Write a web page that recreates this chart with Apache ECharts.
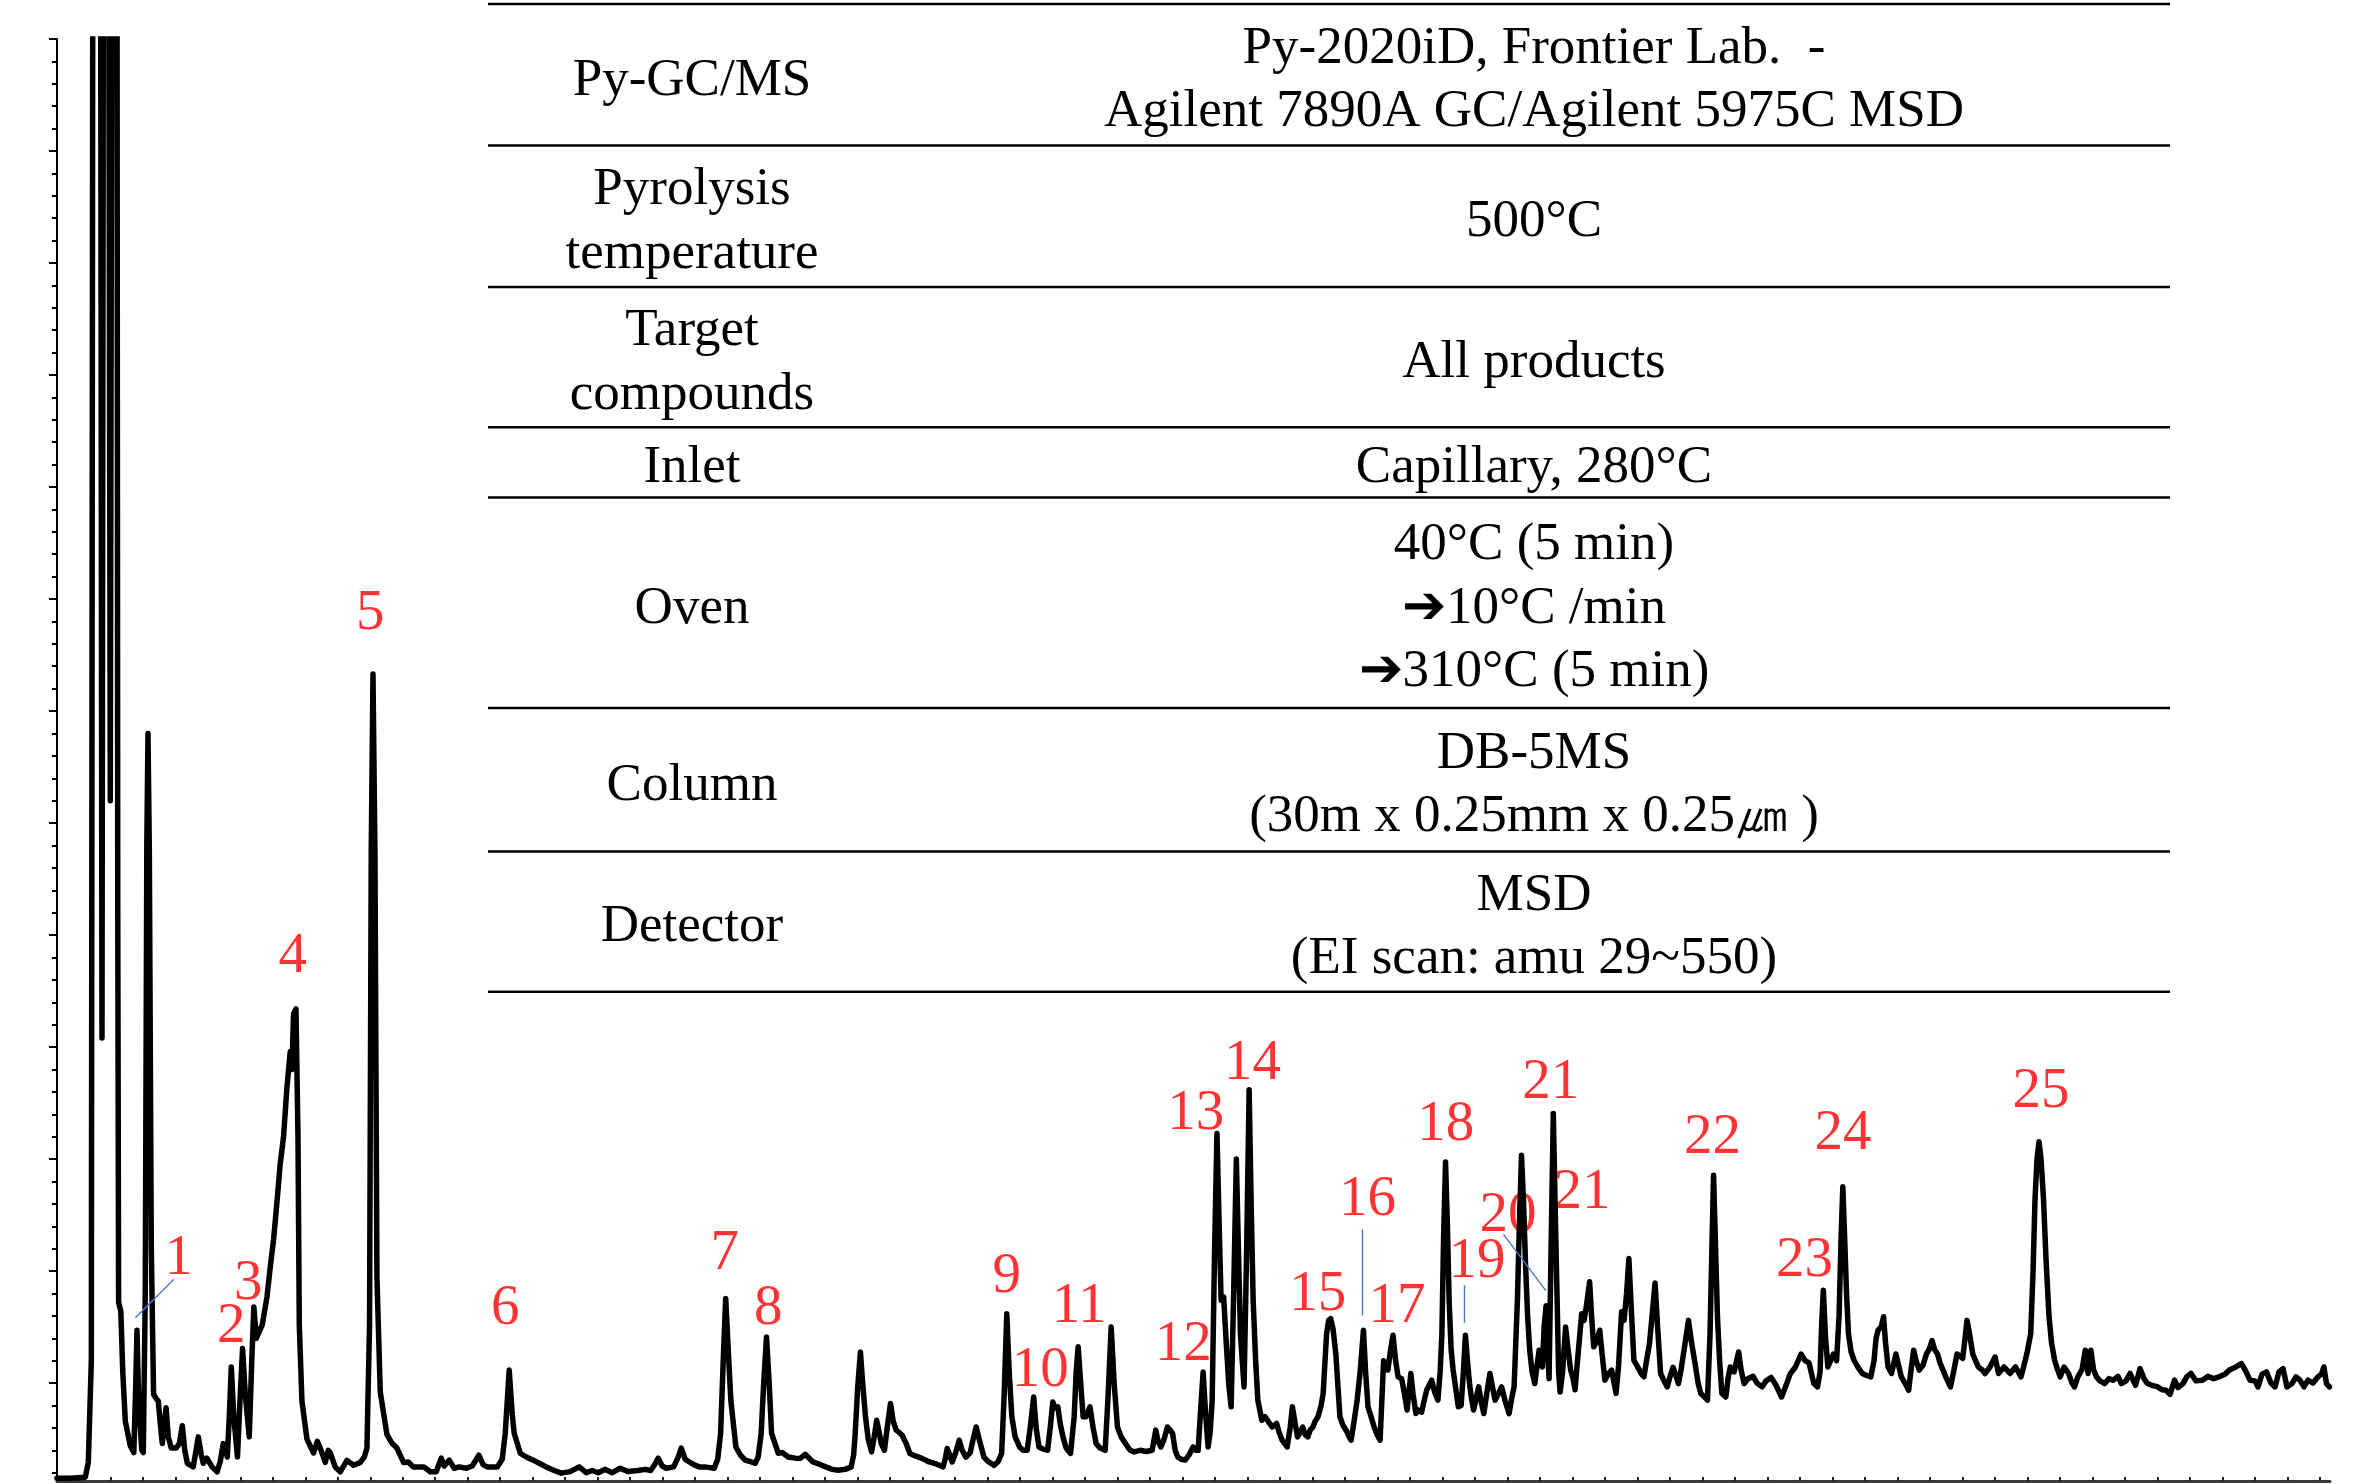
<!DOCTYPE html>
<html>
<head>
<meta charset="utf-8">
<style>
html,body{margin:0;padding:0;background:#fff;}
#chart{width:2374px;height:1484px;}
</style>
<script src="https://cdn.jsdelivr.net/npm/echarts@6/dist/echarts.min.js"></script>
</head>
<body>
<div id="chart"></div>
<script>
// Retention time (min)
const times = [
0.680,0.885,1.115,1.162,1.208,1.235,1.346,1.372,1.400,1.469,1.500,1.531,1.600,1.615,1.628,1.662,1.692,1.731,1.808,1.862,
1.892,1.911,1.938,1.985,2.008,2.038,2.062,2.080,2.100,2.131,2.166,2.208,2.238,2.269,2.300,2.358,2.392,2.438,2.515,2.562,
2.608,2.646,2.685,2.777,2.854,2.900,2.931,2.986,3.065,3.143,3.192,3.238,3.300,3.331,3.362,3.400,3.457,3.492,3.535,3.577,
3.638,3.677,3.709,3.746,3.777,3.838,3.911,3.962,4.012,4.062,4.115,4.166,4.218,4.269,4.295,4.320,4.357,4.388,4.408,4.449,
4.526,4.628,4.685,4.731,4.808,4.854,4.885,4.962,5.038,5.142,5.243,5.346,5.408,5.449,5.489,5.515,5.542,5.572,5.603,5.654,
5.757,5.838,5.911,6.012,6.085,6.166,6.323,6.423,6.515,6.592,6.638,6.715,6.792,6.869,6.977,7.069,7.171,7.238,7.300,7.454,
7.531,7.577,7.638,7.685,7.715,7.808,7.900,8.008,8.115,8.208,8.331,8.438,8.577,8.715,8.823,8.915,9.008,9.109,9.223,9.346,
9.469,9.620,9.731,9.815,9.885,9.931,9.992,10.054,10.169,10.238,10.285,10.346,10.408,10.485,10.562,10.669,10.792,10.846,10.891,10.931,
10.969,11.008,11.048,11.126,11.192,11.269,11.346,11.423,11.469,11.515,11.554,11.597,11.638,11.675,11.777,11.838,11.931,12.038,12.115,12.192,
12.312,12.392,12.508,12.608,12.700,12.808,12.900,12.938,12.962,13.000,13.042,13.077,13.120,13.162,13.214,13.254,13.292,13.331,13.362,13.411,
13.454,13.505,13.546,13.592,13.638,13.685,13.746,13.803,13.885,13.998,14.085,14.192,14.314,14.346,14.377,14.415,14.454,14.508,14.562,14.608,
14.666,14.731,14.777,14.823,14.869,14.942,15.008,15.100,15.162,15.215,15.254,15.294,15.331,15.372,15.423,15.491,15.546,15.608,15.654,15.708,
15.746,15.789,15.854,15.922,15.962,16.002,16.038,16.080,16.115,16.158,16.208,16.275,16.331,16.362,16.392,16.431,16.469,16.515,16.574,16.623,
16.669,16.731,16.808,16.854,16.900,16.946,16.997,17.054,17.138,17.192,17.254,17.346,17.438,17.531,17.586,17.623,17.665,17.715,17.766,17.808,
17.845,17.885,17.925,17.977,18.038,18.100,18.160,18.200,18.238,18.277,18.315,18.354,18.392,18.423,18.454,18.492,18.528,18.562,18.592,18.631,
18.669,18.708,18.746,18.785,18.826,18.858,18.889,18.945,18.985,19.023,19.054,19.085,19.123,19.157,19.218,19.269,19.315,19.377,19.446,19.485,
19.531,19.608,19.654,19.689,19.731,19.768,19.808,19.848,19.885,19.926,19.962,20.005,20.038,20.083,20.131,20.162,20.215,20.246,20.278,20.315,
20.357,20.420,20.469,20.515,20.562,20.592,20.638,20.685,20.731,20.782,20.815,20.852,20.900,20.946,20.992,21.038,21.069,21.092,21.158,21.200,
21.237,21.277,21.315,21.369,21.408,21.454,21.511,21.546,21.589,21.623,21.677,21.715,21.754,21.792,21.832,21.877,21.928,21.962,21.989,22.015,
22.045,22.074,22.100,22.131,22.162,22.200,22.242,22.285,22.320,22.351,22.382,22.414,22.446,22.477,22.515,22.555,22.592,22.634,22.677,22.728,
22.769,22.808,22.854,22.908,22.962,23.023,23.062,23.100,23.151,23.185,23.214,23.246,23.277,23.308,23.340,23.377,23.418,23.454,23.485,23.515,
23.535,23.562,23.592,23.615,23.638,23.669,23.703,23.731,23.762,23.785,23.808,23.846,23.892,23.931,23.969,24.008,24.038,24.069,24.103,24.140,
24.177,24.215,24.262,24.292,24.325,24.362,24.418,24.454,24.497,24.546,24.600,24.638,24.669,24.708,24.754,24.792,24.831,24.866,24.900,24.943,
24.985,25.029,25.062,25.097,25.138,25.183,25.223,25.269,25.308,25.354,25.408,25.457,25.500,25.546,25.592,25.629,25.669,25.715,25.783,25.831,
25.885,25.931,25.972,26.023,26.075,26.115,26.143,26.169,26.200,26.229,26.262,26.297,26.358,26.392,26.426,26.485,26.555,26.592,26.640,26.700,
26.777,26.838,26.915,26.977,27.054,27.131,27.215,27.285,27.346,27.429,27.515,27.577,27.638,27.712,27.769,27.808,27.831,27.858,27.892,27.928,
27.969,28.012,28.062,28.100,28.131,28.158,28.192,28.215,28.245,28.285,28.331,28.392,28.458,28.515,28.588,28.638,28.669,28.700,28.746,28.785,
28.815,28.854,28.908,28.974,29.015,29.058,29.115,29.171,29.208,29.248,29.285,29.334,29.392,29.445,29.485,29.531,29.569,29.615,29.654,29.700,
29.754,29.814,29.869,29.915,29.962,30.002,30.038,30.069,30.108,30.157,30.200,30.243,30.300,30.346,30.423,30.500,30.554,30.638,30.731,30.815,
30.900,30.946,30.989,31.049,31.085,31.115,31.146,31.177,31.208,31.246,31.285,31.331,31.369,31.417,31.462,31.503,31.562,31.632,31.685,31.723,
31.774,31.838,31.889,31.931,31.975,32.015,32.060,32.115,32.188,32.254,32.315,32.392,32.443,32.515,32.577,32.662,32.731,32.792,32.846,32.915,
33.005,33.069,33.131,33.192,33.262,33.315,33.392,33.454,33.515,33.592,33.692,33.777,33.862,33.946,34.038,34.115,34.205,34.291,34.346,34.423,
34.500,34.546,34.608,34.677,34.746,34.808,34.869,34.931,34.992,35.069,35.131,35.192,35.254,35.315,35.392,35.469,35.523,35.560,35.600,35.646
];
// Abundance (relative units)
const intensity = [
-0.25,-0.25,-0.2,0.47,5,80,80,19.4,80,80,30,80,80,25,7.6,7.2,4.5,2.3,1.2,0.9,
4,6.36,3,1.0,0.9,8,28,33,28,10,3.5,3.3,3.2,2.2,1.3,2.9,1.6,1.1,1.1,1.3,
2.1,1.0,0.42,0.26,1.6,0.8,0.42,0.65,0.26,0.04,0.5,1.3,0.7,2.5,4.72,2.5,0.7,3,5.54,3.5,
1.6,5,7.4,6.0,6.2,6.6,7.85,9.2,10.4,12.0,13.8,15.0,17.2,18.8,18.0,20.5,20.7,15,6.6,3.2,
1.5,0.88,1.4,1.1,0.46,1.0,0.88,0.25,0.04,0.55,0.33,0.46,0.7,1.1,6.6,27.7,35.65,27.7,8.7,3.6,
1.7,1.3,1.1,0.46,0.48,0.25,0.26,0.04,0.04,0.65,0.3,0.56,0.2,0.26,0.2,0.3,0.78,0.35,0.26,0.26,
0.6,1.76,4.58,2.6,1.76,0.87,0.7,0.56,0.4,0.26,0.1,-0.02,0.05,0.26,0.0,0.1,0.0,0.15,0.0,0.2,
0.05,0.1,0.15,0.1,0.4,0.65,0.3,0.2,0.26,0.7,1.1,0.6,0.48,0.35,0.26,0.25,0.2,0.6,1.76,5,
7.78,5.5,3.24,1.15,0.8,0.56,0.5,0.42,0.7,1.76,4,6.06,4,1.76,0.87,0.9,0.7,0.65,0.64,0.82,
0.48,0.4,0.26,0.15,0.11,0.15,0.26,0.8,1.76,3.8,5.39,4,2.5,1.5,0.93,1.6,2.34,1.8,1.3,1.0,
2.0,3.09,2.3,1.9,1.8,1.67,1.3,0.86,0.75,0.63,0.5,0.41,0.26,0.6,1.08,0.8,0.48,0.9,1.45,1.0,
0.7,0.9,1.5,2.04,1.5,0.7,0.5,0.33,0.5,0.86,3.5,7.1,4.5,2.5,1.6,1.15,1.0,1.0,2.0,3.38,
2.0,1.15,1.05,1.0,2.0,3.16,2.9,2.94,2.2,1.6,1.1,0.86,2.5,4.5,5.62,4,2.5,2.5,2.94,2.0,
1.3,1.1,1.0,3.5,6.5,4.0,2.04,1.6,1.23,1.0,0.93,1.0,0.95,1.0,1.9,1.4,1.15,1.5,2.04,1.9,
1.75,1.0,0.7,0.6,0.56,0.8,1.15,1.0,1.0,2.8,4.5,2.6,1.15,1.8,3.2,10,15.14,11,7.7,7.85,
5.9,4.0,2.94,8,14.0,10,6.2,3.83,10,17.1,12,7.7,5,3.24,2.34,2.5,2.3,2.04,2.2,1.8,
1.45,1.15,2.0,2.94,2.2,1.6,1.8,2.04,1.7,1.6,1.9,2.04,2.3,2.5,3.0,3.54,6.2,6.8,6.88,6.4,
5.3,2.5,2.1,1.9,1.6,1.45,2.3,3.24,4.5,6.36,4.5,2.94,2.5,2.04,1.7,1.45,3.5,5.0,4.58,5.5,
6.14,5.0,4.28,4.2,3.6,2.8,4.43,3.5,2.64,2.8,2.7,3.2,3.68,3.9,4.13,3.6,3.24,4.5,6.2,10.5,
13.87,11,7.7,5.5,4.58,3.8,2.94,3.0,4.5,6.14,5.0,3.98,3.3,2.8,3.3,3.83,3.2,2.64,3.5,4.43,
3.8,3.24,3.5,3.83,3.2,2.64,3.3,3.83,7.7,11.5,14.17,12,9.2,7.0,5.47,4.5,3.98,4.8,5.47,5.0,
4.72,6.5,7.45,5.5,4.2,10,16.04,12,7.7,4.5,3.6,4.5,6.5,5.5,4.6,4.2,3.7,4.8,5.9,7.1,
6.8,7.5,8.52,7.0,5.62,5.8,6.36,5.3,4.13,4.4,4.58,4.0,3.54,4.8,7.18,6.8,8.0,9.56,7.5,5.02,
4.8,4.58,4.4,4.28,5.0,5.77,7.0,8.47,6.5,4.43,4.1,3.83,4.3,4.7,4.3,3.98,4.6,5.47,6.8,5.8,
4.87,4.0,3.54,3.4,3.24,6.2,10,13.28,10,6.96,5.0,3.54,3.38,4.2,4.72,4.5,5.39,4.6,3.98,4.2,
4.3,4.0,3.83,4.1,4.25,3.9,3.38,3.9,4.4,4.72,5.3,5.0,4.9,3.98,3.83,4.5,6.5,8.15,6.0,4.72,
5.0,5.3,5.0,7.0,10.5,12.76,10,8.0,6.2,5.4,5.02,4.7,4.43,4.35,4.28,5.0,6.0,6.36,6.5,6.96,
5.8,4.72,4.43,5.3,4.8,4.28,4.0,3.68,4.6,5.47,5.0,4.58,4.8,5.3,5.5,5.9,5.5,5.3,4.9,4.58,
4.2,3.83,4.6,5.3,5.2,5.1,6.0,6.8,6.2,5.3,5.0,4.72,4.6,4.43,4.72,5.17,4.43,4.72,4.43,4.72,
4.28,4.8,5.3,6.2,9,12.2,14.0,14.77,14.0,12.2,9.5,6.96,5.8,5.02,4.6,4.28,4.72,4.43,4.0,3.83,
4.28,4.6,5.47,4.43,5.47,4.6,4.28,4.1,3.98,4.2,4.13,4.3,3.98,4.1,4.43,3.9,4.65,4.2,3.98,3.9,
3.83,3.7,3.68,3.5,4.13,3.8,3.98,4.3,4.43,4.1,4.13,4.3,4.2,4.28,4.4,4.6,4.72,4.87,4.6,4.13,
4.1,3.83,4.4,4.5,4.0,3.83,4.5,4.65,3.83,3.98,4.28,4.13,3.83,4.13,4.0,4.28,4.4,4.72,3.98,3.83
];

// Peak numbers and where their labels sit (time, level)
const peakLabels = ['1','2','3','4','5','6','7','8','9','10','11','12','13','14','15','16','17','18','19','20','21','21','22','23','24','25'];
const labelTimes = [2.555,3.362,3.623,4.308,5.500,7.577,10.954,11.623,15.294,15.808,16.408,18.008,18.200,19.074,20.078,20.846,21.300,22.049,22.528,23.006,23.662,24.146,26.152,27.568,28.162,31.208];
const labelLevels = [9.545,6.496,8.429,23.01,38.33,7.31,9.77,7.31,8.73,4.56,7.39,5.68,16.02,18.25,7.91,12.15,7.39,15.50,9.40,11.48,17.39,12.49,14.93,9.43,15.13,16.99];

// Leader lines (label -> peak)
const leaderFrom = [[2.475,8.62],[20.765,10.86],[22.335,8.37],[22.937,10.64]];
const leaderTo = [[1.886,6.92],[20.765,7.03],[22.335,6.69],[23.589,8.13]];

// Axis ticks
const xTicks = [];
for (let t = 1.0; t <= 35.5001; t += 0.5) xTicks.push(+t.toFixed(2));
const yMajorTicks = [4,9,14,19,24,29,34,39,44,49,54,59,64];
const yMinorTicks = [];
for (let v = 0; v <= 64; v++) if (yMajorTicks.indexOf(v) < 0) yMinorTicks.push(v);

// Instrument table
const tableLeft = [['Py-GC/MS'],['Pyrolysis','temperature'],['Target','compounds'],['Inlet'],['Oven'],['Column'],['Detector']];
const tableRight = [
  ['Py-2020iD, Frontier Lab.  -','Agilent 7890A GC/Agilent 5975C MSD'],
  ['500°C'],
  ['All products'],
  ['Capillary, 280°C'],
  ['40°C (5 min)','\u279410°C /min','\u2794310°C (5 min)'],
  ['DB-5MS','(30m x 0.25mm x 0.25\u339B )'],
  ['MSD','(EI scan: amu 29~550)']
];
const rowEdges = [4,145.4,287,427.3,497.4,708,851.4,991.7];

const chart = echarts.init(document.getElementById('chart'));

const graphics = [];
const tX1 = 488, tX2 = 2170, leftCx = 692, rightCx = 1534;
const FONT = '53px "Liberation Serif", "Times New Roman", serif';
const LH = 63.5;
rowEdges.forEach(function (y) {
  graphics.push({type:'line', shape:{x1:tX1, y1:y, x2:tX2, y2:y}, style:{stroke:'#000', lineWidth:2.5}, z:10});
});
function addLines(lines, cx, top, bottom) {
  const c = (top + bottom) / 2;
  const n = lines.length;
  lines.forEach(function (s, i) {
    graphics.push({type:'text', x:cx, y:c + 6 + (i - (n - 1) / 2) * LH, z:10,
      style:{text:s, fill:'#000', font:FONT, textAlign:'center', textVerticalAlign:'middle'}});
  });
}
for (let r = 0; r < tableLeft.length; r++) {
  addLines(tableLeft[r], leftCx, rowEdges[r], rowEdges[r+1]);
  addLines(tableRight[r], rightCx, rowEdges[r], rowEdges[r+1]);
}

const traceData = times.map(function (t, i) { return [t, intensity[i]]; });
const labelData = peakLabels.map(function (n, i) { return {name:n, value:[labelTimes[i], labelLevels[i]]}; });
const leaderData = leaderFrom.map(function (p, i) { return [{coord:p}, {coord:leaderTo[i]}]; });

chart.setOption({
  animation: false,
  backgroundColor: '#fff',
  grid: {left:57, right:44, top:39, bottom:3, outerBoundsMode:'none', containLabel:false},
  xAxis: {
    type:'value', min:0.68, max:35.654,
    axisLine:{show:true, onZero:false, lineStyle:{color:'#3a3a3a', width:3}},
    axisTick:{show:true, inside:true, length:4, customValues:xTicks, lineStyle:{color:'#222', width:2}},
    axisLabel:{show:false}, splitLine:{show:false}, minorTick:{show:false}
  },
  yAxis: [{
    type:'value', min:-0.37, max:64,
    axisLine:{show:true, onZero:false, lineStyle:{color:'#000', width:2}},
    axisTick:{show:true, inside:false, length:8, customValues:yMajorTicks, lineStyle:{color:'#000', width:2}},
    axisLabel:{show:false}, splitLine:{show:false}
  },{
    type:'value', min:-0.37, max:64, position:'left',
    axisLine:{show:false},
    axisTick:{show:true, inside:false, length:5, customValues:yMinorTicks, lineStyle:{color:'#000', width:2}},
    axisLabel:{show:false}, splitLine:{show:false}
  }],
  series: [{
    type:'line', data:traceData, showSymbol:false, symbol:'none', clip:true, silent:true,
    lineStyle:{color:'#000', width:5.5, join:'round', cap:'round'},
    markLine:{silent:true, symbol:['none','none'], label:{show:false}, animation:false,
      lineStyle:{color:'#4a78c8', width:1.4, type:'solid'}, data:leaderData}
  },{
    type:'scatter', data:labelData, symbolSize:1, itemStyle:{color:'rgba(0,0,0,0)'}, silent:true,
    label:{show:true, position:'inside', formatter:'{b}', color:'#ff0000', fontSize:57,
      fontFamily:'"Liberation Serif", "Times New Roman", serif'}
  }],
  graphic: graphics
});
</script>
</body>
</html>
